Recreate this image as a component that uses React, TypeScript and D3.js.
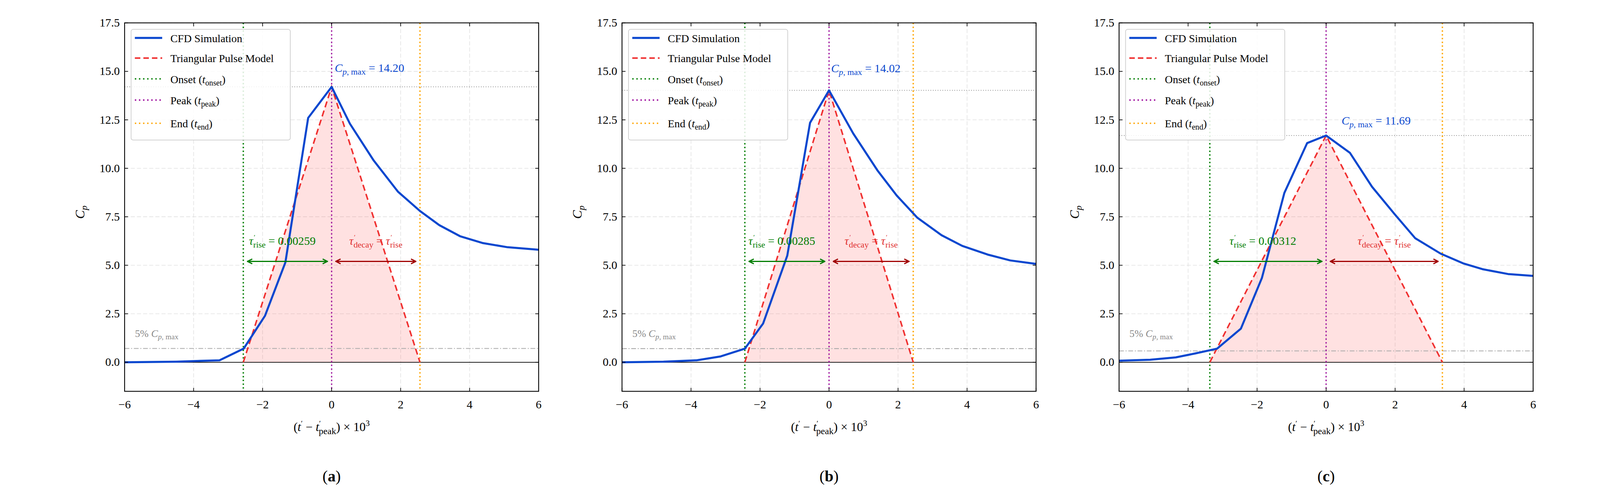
import React from "react";
import * as d3 from "d3";

const xTicks = [-6, -4, -2, 0, 2, 4, 6];
const yTicks = [0, 2.5, 5, 7.5, 10, 12.5, 15, 17.5];
const panelLetters = ["a", "b", "c"];
const cpMax = [14.2, 14.02, 11.69];
const tauRise = ["0.00259", "0.00285", "0.00312"];
const onsetT = [-2.56, -2.44, -3.37];
const endT = [2.56, 2.44, 3.37];
const cfdXA = [-6, -4.5, -3.25, -2.55, -1.93, -1.34, -0.68, 0, 0.53, 1.22, 1.92, 2.56, 3.12, 3.72, 4.37, 5.1, 6];
const cfdYA = [0, 0.03, 0.1, 0.7, 2.4, 5.15, 12.6, 14.2, 12.3, 10.4, 8.8, 7.8, 7.07, 6.5, 6.15, 5.93, 5.8];
const cfdXB = [-6, -4.8, -3.84, -3.14, -2.44, -1.91, -1.21, -0.55, 0, 0.7, 1.4, 1.96, 2.56, 3.26, 3.86, 4.6, 5.25, 6];
const cfdYB = [0, 0.03, 0.1, 0.3, 0.7, 2.0, 5.5, 12.35, 14.02, 11.8, 9.9, 8.6, 7.45, 6.55, 6.0, 5.55, 5.25, 5.07];
const cfdXC = [-6, -5.1, -4.36, -3.8, -3.16, -2.47, -1.86, -1.21, -0.55, 0, 0.69, 1.33, 1.98, 2.58, 3.32, 3.97, 4.53, 5.27, 6];
const cfdYC = [0.08, 0.13, 0.25, 0.45, 0.7, 1.73, 4.35, 8.73, 11.3, 11.69, 10.8, 9.05, 7.65, 6.4, 5.6, 5.1, 4.8, 4.55, 4.45];
const cfdX = [cfdXA, cfdXB, cfdXC];
const cfdY = [cfdYA, cfdYB, cfdYC];
const cpLabelPos = [[0.09, 14.98], [0.06, 14.95], [0.45, 12.25]];
const legendItems = ["CFD Simulation", "Triangular Pulse Model", "Onset", "Peak", "End"];

const plotLefts = [187, 1643, 3098];
const W = 1212, TOP = 67, H = 1079;
const FONT = "'Liberation Serif', 'DejaVu Serif', serif";
const BLUE = "#0a47cf", RED = "#f03030", GREEN = "#007d00", PURPLE = "#990099", ORANGE = "#ffa500";

function Tau({ sub }: { sub: string }) {
  return (
    <>
      <tspan fontStyle="italic">τ</tspan>
      <tspan fontSize={20} dy={-16} dx={2}>′</tspan>
      <tspan fontSize={25} dy={24} dx={-6}>{sub}</tspan>
      <tspan dy={-8}> </tspan>
    </>
  );
}

function Panel({ i }: { i: number }) {
  const L = plotLefts[i];
  const x = d3.scaleLinear().domain([-6, 6]).range([L, L + W]);
  const y = d3.scaleLinear().domain([-1.5, 17.5]).range([TOP + H, TOP]);
  const pts = cfdX[i].map((v, k) => [v, cfdY[i][k]] as [number, number]);
  const line = d3.line<[number, number]>().x((d) => x(d[0])).y((d) => y(d[1]));
  const tri: [number, number][] = [[onsetT[i], 0], [0, cpMax[i]], [endT[i], 0]];
  const fs = 34;
  const legX = L + 19, legY = TOP + 19;
  const rowY = [119, 178, 239, 301, 369];
  const legSample = [
    { c: BLUE, w: 6, da: "" },
    { c: RED, w: 4.5, da: "16,9" },
    { c: GREEN, w: 4, da: "4,8" },
    { c: PURPLE, w: 4, da: "4,8" },
    { c: ORANGE, w: 4, da: "4,8" },
  ];
  const subs = ["", "", "onset", "peak", "end"];
  const arrowY = y(5.2);
  const midRise = (x(onsetT[i]) + x(0)) / 2 - 15;
  const midDecay = (x(endT[i]) + x(0)) / 2;
  const tauY = y(6.05);
  return (
    <g fontFamily={FONT}>
      <defs>
        <marker id={`ag${i}`} viewBox="0 0 10 10" refX="8" refY="5" markerWidth="5" markerHeight="5" orient="auto-start-reverse">
          <path d="M1,1 L9,5 L1,9" fill="none" stroke={GREEN} strokeWidth="2" />
        </marker>
        <marker id={`ar${i}`} viewBox="0 0 10 10" refX="8" refY="5" markerWidth="5" markerHeight="5" orient="auto-start-reverse">
          <path d="M1,1 L9,5 L1,9" fill="none" stroke="#a00000" strokeWidth="2" />
        </marker>
        <clipPath id={`clip${i}`}><rect x={L} y={TOP} width={W} height={H} /></clipPath>
      </defs>
      {xTicks.map((t) => (
        <line key={"gx" + t} x1={x(t)} x2={x(t)} y1={TOP} y2={TOP + H} stroke="#ddd" strokeWidth={1.5} strokeDasharray="12,6" />
      ))}
      {yTicks.map((t) => (
        <line key={"gy" + t} x1={L} x2={L + W} y1={y(t)} y2={y(t)} stroke="#ddd" strokeWidth={1.5} strokeDasharray="12,6" />
      ))}
      <g clipPath={`url(#clip${i})`}>
        <path d={line(tri) + "Z"} fill="rgba(255,90,90,0.18)" stroke="none" />
        <line x1={L} x2={L + W} y1={y(0)} y2={y(0)} stroke="#000" strokeWidth={2} />
        <line x1={L} x2={L + W} y1={y(cpMax[i] * 0.05)} y2={y(cpMax[i] * 0.05)} stroke="#aaa" strokeWidth={2.5} strokeDasharray="14,5,3,5" />
        <line x1={L} x2={L + W} y1={y(cpMax[i])} y2={y(cpMax[i])} stroke="#777" strokeWidth={2} strokeDasharray="2,5" />
        <line x1={x(onsetT[i])} x2={x(onsetT[i])} y1={TOP} y2={TOP + H} stroke={GREEN} strokeWidth={4} strokeDasharray="4,7" />
        <line x1={x(0)} x2={x(0)} y1={TOP} y2={TOP + H} stroke={PURPLE} strokeWidth={3.5} strokeDasharray="4,7" />
        <line x1={x(endT[i])} x2={x(endT[i])} y1={TOP} y2={TOP + H} stroke={ORANGE} strokeWidth={4} strokeDasharray="4,7" />
        <path d={line(tri)!} fill="none" stroke={RED} strokeWidth={4.5} strokeDasharray="18,10" />
        <path d={line(pts)!} fill="none" stroke={BLUE} strokeWidth={6} strokeLinejoin="round" />
      </g>
      <text x={x(-5.7)} y={y(1.3)} fontSize={30} fill="#888">5% <tspan fontStyle="italic">C</tspan><tspan fontSize={22} dy={7}><tspan fontStyle="italic">p</tspan>, max</tspan></text>
      <text x={x(cpLabelPos[i][0])} y={y(cpLabelPos[i][1])} fontSize={fs} fill={BLUE}>
        <tspan fontStyle="italic">C</tspan><tspan fontSize={25} dy={8}><tspan fontStyle="italic">p</tspan>, max</tspan><tspan dy={-8}> = {cpMax[i].toFixed(2)}</tspan>
      </text>
      <line x1={x(onsetT[i]) + 14} x2={x(0) - 14} y1={arrowY} y2={arrowY} stroke={GREEN} strokeWidth={3.5} markerStart={`url(#ag${i})`} markerEnd={`url(#ag${i})`} />
      <line x1={x(0) + 14} x2={x(endT[i]) - 14} y1={arrowY} y2={arrowY} stroke="#a00000" strokeWidth={3.5} markerStart={`url(#ar${i})`} markerEnd={`url(#ar${i})`} />
      <text x={midRise} y={tauY} fontSize={fs} fill={GREEN} textAnchor="middle">
        <Tau sub="rise" /><tspan>= {tauRise[i]}</tspan>
      </text>
      <text x={midDecay} y={tauY} fontSize={fs} fill="#e03030" textAnchor="middle">
        <Tau sub="decay" /><tspan>= </tspan><Tau sub="rise" />
      </text>
      <rect x={L} y={TOP} width={W} height={H} fill="none" stroke="#000" strokeWidth={2.5} />
      {xTicks.map((t) => (
        <g key={"tx" + t}>
          <line x1={x(t)} x2={x(t)} y1={TOP + H} y2={TOP + H - 10} stroke="#000" strokeWidth={2} />
          <line x1={x(t)} x2={x(t)} y1={TOP} y2={TOP + 10} stroke="#000" strokeWidth={2} />
          <text x={x(t)} y={TOP + H + 50} fontSize={fs} textAnchor="middle">{t < 0 ? "−" + Math.abs(t) : t}</text>
        </g>
      ))}
      {yTicks.map((t) => (
        <g key={"ty" + t}>
          <line x1={L} x2={L + 10} y1={y(t)} y2={y(t)} stroke="#000" strokeWidth={2} />
          <line x1={L + W} x2={L + W - 10} y1={y(t)} y2={y(t)} stroke="#000" strokeWidth={2} />
          <text x={L - 14} y={y(t) + 11} fontSize={fs} textAnchor="end">{t.toFixed(1)}</text>
        </g>
      ))}
      <text transform={`translate(${L - 118},${TOP + H / 2 + 15}) rotate(-90)`} fontSize={38} textAnchor="middle">
        <tspan fontStyle="italic">C</tspan><tspan fontStyle="italic" fontSize={27} dy={8}>p</tspan>
      </text>
      <text x={L + W / 2} y={1262} fontSize={36} textAnchor="middle">
        (<tspan fontStyle="italic">t</tspan><tspan fontSize={22} dy={-14}>′</tspan><tspan dy={14}> − </tspan><tspan fontStyle="italic">t</tspan><tspan fontSize={22} dy={-14}>′</tspan><tspan fontSize={27} dy={24} dx={-6}>peak</tspan><tspan dy={-10}>) × 10</tspan><tspan fontSize={24} dy={-14}>3</tspan>
      </text>
      <text x={L + W / 2} y={1410} fontSize={46} textAnchor="middle">(<tspan fontWeight="bold">{panelLetters[i]}</tspan>)</text>
      <rect x={legX} y={legY} width={466} height={324} rx={6} fill="rgba(255,255,255,0.85)" stroke="#ccc" strokeWidth={2} />
      {legendItems.map((s, k) => (
        <g key={s}>
          <line x1={L + 30} x2={L + 110} y1={rowY[k] - 8} y2={rowY[k] - 8} stroke={legSample[k].c} strokeWidth={legSample[k].w} strokeDasharray={legSample[k].da} />
          <text x={L + 134} y={rowY[k] + 4} fontSize={32}>
            {s}
            {subs[k] && (
              <>
                <tspan> (</tspan><tspan fontStyle="italic">t</tspan><tspan fontSize={23} dy={7}>{subs[k]}</tspan><tspan dy={-7}>)</tspan>
              </>
            )}
          </text>
        </g>
      ))}
    </g>
  );
}

export default function App() {
  return (
    <svg viewBox="0 0 4328 1435" preserveAspectRatio="xMidYMin meet"
      style={{ position: "fixed", left: 0, top: 0, width: "100vw", height: "100vh", background: "#fff", display: "block" }}>
      <rect width={4328} height={1435} fill="#fff" />
      {[0, 1, 2].map((i) => <Panel key={i} i={i} />)}
    </svg>
  );
}
